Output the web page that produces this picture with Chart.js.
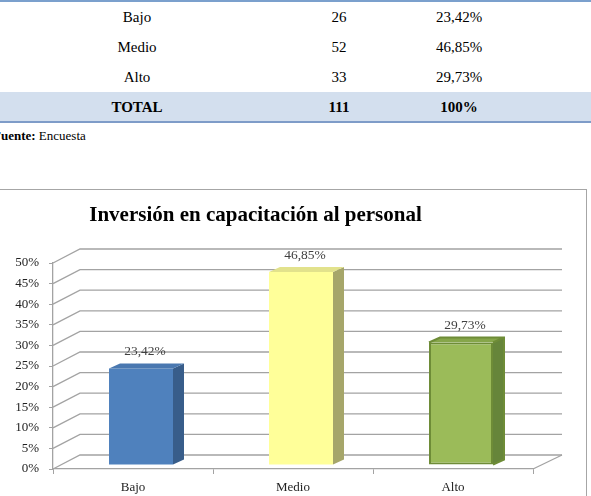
<!DOCTYPE html>
<html>
<head>
<meta charset="utf-8">
<script src="https://cdn.jsdelivr.net/npm/chart.js@4"></script>
<style>
  html, body { margin:0; padding:0; background:#fff; overflow:hidden; width:591px; height:496px; position:relative; }
  .t { position:absolute; font-family:"Liberation Serif", serif; font-size:15px; color:#000; transform:translate(-50%,-50%); white-space:nowrap; }
  .b { font-weight:bold; }
  #topline { position:absolute; left:0; top:0; width:591px; height:2px; background:#7ba0cd; }
  #totalbg { position:absolute; left:0; top:92px; width:591px; height:29px; background:#d3dfee; }
  #botline { position:absolute; left:0; top:121px; width:591px; height:2px; background:#7e9cc8; }
  #fuente { position:absolute; left:-7px; top:128px; font-family:"Liberation Serif", serif; font-size:13px; color:#000; white-space:nowrap; }
  #box { position:absolute; left:-76px; top:189px; width:661px; height:330px; border:1px solid #a6a6a6; background:#fff; }
  #c { display:block; }
</style>
</head>
<body>
<div id="topline"></div>
<div id="totalbg"></div>
<div id="botline"></div>
<div id="table"></div>
<div id="fuente"><b>Fuente:</b> Encuesta</div>
<div id="box"><canvas id="c" width="661" height="330"></canvas></div>
<script>
const categories = ['Bajo', 'Medio', 'Alto'];
const counts = [26, 52, 33];
const percents = [23.42, 46.85, 29.73];
const totalLabel = 'TOTAL';
const totalCount = 111;
const totalPercent = '100%';
const chartTitle = 'Inversión en capacitación al personal';

const fmt = v => v.toFixed(2).replace('.', ',') + '%';

// Table
const colX = [137, 339, 459];
const rowY = [17, 47, 77];
const tbl = document.getElementById('table');
function cell(text, x, y, bold) {
  const s = document.createElement('div');
  s.className = 't' + (bold ? ' b' : '');
  s.style.left = x + 'px'; s.style.top = y + 'px';
  s.textContent = text;
  tbl.appendChild(s);
}
categories.forEach((c, i) => {
  cell(c, colX[0], rowY[i]);
  cell(String(counts[i]), colX[1], rowY[i]);
  cell(fmt(percents[i]), colX[2], rowY[i]);
});
cell(totalLabel, colX[0], 107, true);
cell(String(totalCount), colX[1], 107, true);
cell(totalPercent, colX[2], 107, true);

// 3D chart
const DX = 27, DY = -14;      // wall depth
const OX = 8, OY = -4;        // bar plane offset
const BX = 11, BY = -5;       // bar depth
const frontColors = ['#4f81bd', '#ffff99', '#9bbb59'];
const sideColors = ['#385d8a', '#a6a66a', '#66853a'];
const topColors = ['#4a78b0', '#e2e28c', '#86a64a'];
const borderColors = ['#4f81bd', '#ffff99', '#6e8c37'];
const borderWidths = [0, 0, 2];

const threeD = {
  id: 'threeD',
  beforeDatasetsDraw(chart) {
    const ctx = chart.ctx, ca = chart.chartArea, ys = chart.scales.y;
    ctx.save();
    ctx.strokeStyle = '#a3a3a3';
    ctx.lineWidth = 1.3;
    ys.ticks.forEach(t => {
      const py = ys.getPixelForValue(t.value);
      ctx.beginPath();
      ctx.moveTo(ca.left, py);
      ctx.lineTo(ca.left + DX, py + DY);
      ctx.lineTo(ca.right + DX + 2, py + DY);
      ctx.stroke();
    });
    ctx.beginPath();
    ctx.moveTo(ca.right, ca.bottom);
    ctx.lineTo(ca.right + DX + 2, ca.bottom + DY);
    ctx.stroke();
    ctx.restore();
    ctx.save();
    ctx.translate(OX, OY);
  },
  afterDatasetsDraw(chart) {
    const ctx = chart.ctx;
    ctx.restore();
    const meta = chart.getDatasetMeta(0);
    ctx.save();
    meta.data.forEach((bar, i) => {
      const p = bar.getProps(['x', 'y', 'base', 'width'], true);
      const l = p.x - p.width / 2 + OX, r = p.x + p.width / 2 + OX;
      const t = p.y + OY, b = p.base + OY;
      ctx.lineJoin = 'miter';
      ctx.beginPath();
      ctx.moveTo(r, t); ctx.lineTo(r + BX, t + BY); ctx.lineTo(r + BX, b + BY); ctx.lineTo(r, b); ctx.closePath();
      ctx.fillStyle = sideColors[i]; ctx.fill();
      ctx.beginPath();
      ctx.moveTo(l, t); ctx.lineTo(l + BX, t + BY); ctx.lineTo(r + BX, t + BY); ctx.lineTo(r, t); ctx.closePath();
      ctx.fillStyle = topColors[i]; ctx.fill();
      if (borderWidths[i] > 0) {
        ctx.strokeStyle = borderColors[i]; ctx.lineWidth = borderWidths[i];
        ctx.beginPath();
        ctx.moveTo(l, t); ctx.lineTo(l + BX, t + BY); ctx.lineTo(r + BX, t + BY); ctx.lineTo(r + BX, b + BY); ctx.lineTo(r, b);
        ctx.moveTo(r, t); ctx.lineTo(r + BX, t + BY);
        ctx.stroke();
      }
      ctx.font = '13.5px "Liberation Serif"';
      ctx.fillStyle = '#404040';
      ctx.textAlign = 'center';
      ctx.textBaseline = 'middle';
      ctx.fillText(fmt(percents[i]), p.x + OX + 4, t - 17);
    });
    ctx.restore();
  }
};

const tickFont = { family: 'Liberation Serif', size: 13 };
new Chart(document.getElementById('c'), {
  type: 'bar',
  data: {
    labels: categories,
    datasets: [{
      data: percents,
      backgroundColor: frontColors,
      borderColor: borderColors,
      borderWidth: borderWidths,
      borderSkipped: false,
      barPercentage: 0.4,
      categoryPercentage: 1.0
    }]
  },
  options: {
    responsive: false,
    animation: false,
    devicePixelRatio: 1,
    layout: { padding: { left: 53, right: 53, top: 0, bottom: 0 } },
    plugins: {
      legend: { display: false },
      tooltip: { enabled: false },
      title: {
        display: true,
        text: chartTitle,
        color: '#000',
        font: { family: 'Liberation Serif', size: 21, weight: 'bold' },
        padding: { top: 13, bottom: 34.8 }
      }
    },
    scales: {
      x: {
        grid: { display: true, drawOnChartArea: false, drawTicks: true, tickLength: 5, color: '#a3a3a3', offset: true },
        border: { display: true, color: '#a3a3a3', width: 1.3 },
        ticks: { font: tickFont, color: '#222', padding: 6 },
        afterFit(s) { s.height = 51; }
      },
      y: {
        min: 0, max: 50,
        grid: { display: true, drawOnChartArea: false, drawTicks: true, tickLength: 4, color: '#a3a3a3' },
        border: { display: true, color: '#a3a3a3', width: 1.3 },
        ticks: { stepSize: 5, font: tickFont, color: '#222', padding: 10, callback: v => v + '%' },
        afterFit(s) { s.width = 75; }
      }
    }
  },
  plugins: [threeD]
});
</script>
</body>
</html>
